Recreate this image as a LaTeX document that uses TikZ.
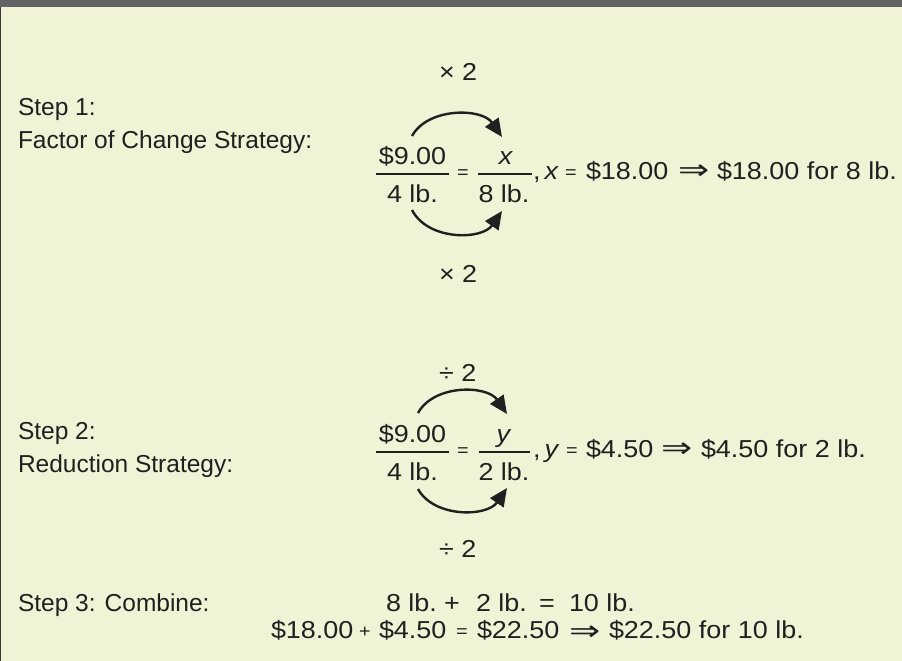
\documentclass[tikz,border=0pt]{standalone}
\usepackage{fontspec}
\usepackage{graphicx}
\setmainfont{Liberation Sans}
\newfontfamily\eqf{Liberation Sans}[FakeStretch=1.1]
\newfontfamily\djv{DejaVu Sans}
\usetikzlibrary{arrows.meta}
\definecolor{bg}{HTML}{F0F3D5}
\definecolor{topbar}{HTML}{636365}
\definecolor{ink}{HTML}{231F20}
\definecolor{edge}{HTML}{3A3A3A}
\newcommand{\impl}{{\djv\fontsize{28}{30}\selectfont\scalebox{1.33}[1]{⇒}}}
\begin{document}
\begin{tikzpicture}[x=1pt,y=-1pt,
  lbl/.style={inner sep=0pt,outer sep=0pt,anchor=base west,text=ink,font=\fontsize{24.5}{29}\selectfont},
  eq/.style={inner sep=0pt,outer sep=0pt,anchor=base west,text=ink,font=\eqf\fontsize{24.5}{29}\selectfont},
  eqc/.style={eq,anchor=base},
  sm/.style={eq,font=\eqf\fontsize{18}{20}\selectfont},
  imp/.style={inner sep=0pt,outer sep=0pt,anchor=west,text=ink},
  fbar/.style={line width=1.8pt,draw=ink},
  arc/.style={line width=2.4pt,draw=ink,-{Triangle[length=18pt,width=16pt]}}]

\useasboundingbox (0,0) rectangle (902,661);
\fill[bg] (0,0) rectangle (902,661);
\fill[topbar] (0,0) rectangle (902,7);
\fill[edge] (0,7) rectangle (1.4,661);

% ---------- Step 1 ----------
\node[lbl] (s1a) at (18,115) {Step 1:};
\node[lbl] (s1b) at (18,148) {Factor of Change Strategy:};
\node[eq] (m1t) at (439,81) {× 2};
\node[eq] (m1b) at (439,282) {× 2};

\node[eqc] (n1a) at (412.5,164) {\$9.00};
\node[eqc] (d1a) at (412.5,202) {4 lb.};
\draw[fbar] (376,174) -- (449,174);
\node[sm] (q1) at (457,178) {=};
\node[eqc] (n1b) at (506,164) {\textit{x}};
\node[eqc] (d1b) at (504,202) {8 lb.};
\draw[fbar] (478,174) -- (532,174);
\node[eq] (c1) at (533,179) {,\,\textit{x}};
\node[sm] (q1b) at (565,178) {=};
\node[eq] (v1) at (586,179) {\$18.00};
\node[imp] (i1) at (678,172.5) {\impl};
\node[eq] (r1) at (717,179) {\$18.00 for 8 lb.};

\coordinate (a1s) at (412,136);
\coordinate (a1e) at (502,137);
\coordinate (b1s) at (412,210);
\coordinate (b1e) at (502,211);
\draw[arc] (a1s) .. controls (428,107) and (482,108) .. (a1e);
\draw[arc] (b1s) .. controls (428,241) and (482,240) .. (b1e);

% ---------- Step 2 ----------
\node[lbl] (s2a) at (18,439) {Step 2:};
\node[lbl] (s2b) at (18,472) {Reduction Strategy:};
\node[eq] (m2t) at (439,381) {÷ 2};
\node[eq] (m2b) at (439,557) {÷ 2};

\node[eqc] (n2a) at (412.5,442) {\$9.00};
\node[eqc] (d2a) at (412.5,480) {4 lb.};
\draw[fbar] (376,452) -- (449,452);
\node[sm] (q2) at (457,456) {=};
\node[eqc] (n2b) at (504,442) {\textit{y}};
\node[eqc] (d2b) at (504,480) {2 lb.};
\draw[fbar] (479,452) -- (530,452);
\node[eq] (c2) at (533,457) {,\,\textit{y}};
\node[sm] (q2b) at (566,456) {=};
\node[eq] (v2) at (586,457) {\$4.50};
\node[imp] (i2) at (661,450.5) {\impl};
\node[eq] (r2) at (701,457) {\$4.50 for 2 lb.};

\coordinate (a2s) at (418,413);
\coordinate (a2e) at (507,414);
\coordinate (b2s) at (418,489);
\coordinate (b2e) at (507,488);
\draw[arc] (a2s) .. controls (434,384) and (487,385) .. (a2e);
\draw[arc] (b2s) .. controls (434,518) and (487,517) .. (b2e);

% ---------- Step 3 ----------
\node[lbl] (s3) at (18,611) {Step 3: Combine:};
\node[eq] (w1) at (386,611) {8 lb.};
\node[eq] (w2) at (444,611) {+};
\node[eq] (w3) at (476,611) {2 lb.};
\node[eq] (w4) at (539,611) {=};
\node[eq] (w5) at (569,611) {10 lb.};

\node[eq] (z1) at (271,638) {\$18.00};
\node[sm] (z2) at (359,637) {+};
\node[eq] (z3) at (379,638) {\$4.50};
\node[sm] (z4) at (456,637) {=};
\node[eq] (z5) at (477,638) {\$22.50};
\node[imp] (z6) at (569,633.5) {\impl};
\node[eq] (z7) at (609,638) {\$22.50 for 10 lb.};
\end{tikzpicture}
\end{document}
